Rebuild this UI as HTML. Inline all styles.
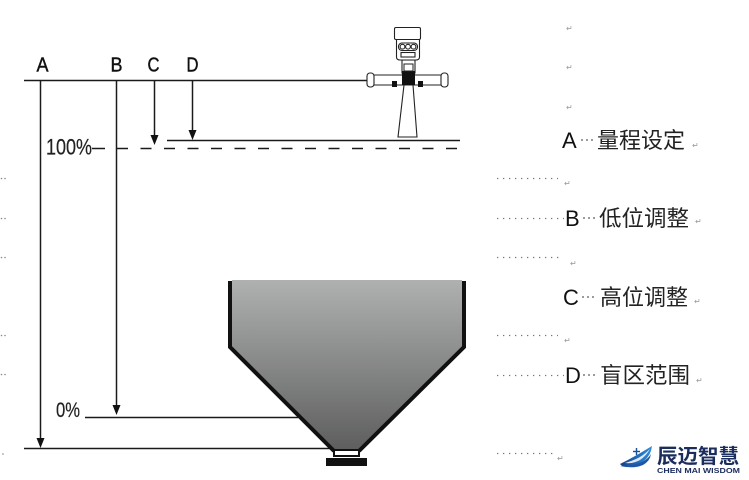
<!DOCTYPE html>
<html><head><meta charset="utf-8"><style>
html,body{margin:0;padding:0;background:#fff;}
svg{display:block;}
text{font-family:"Liberation Sans","Noto Sans CJK SC",sans-serif;}
.cjk{font-family:"Liberation Sans","Noto Sans CJK SC",sans-serif;}
</style></head><body>
<svg width="749" height="480" viewBox="0 0 749 480" xmlns="http://www.w3.org/2000/svg">
<defs>
<linearGradient id="hg" x1="0" y1="0" x2="0" y2="1">
<stop offset="0" stop-color="#afb1b1"/>
<stop offset="1" stop-color="#5e5e5e"/>
</linearGradient>
<linearGradient id="lg" x1="0" y1="0" x2="1" y2="0">
<stop offset="0" stop-color="#173f86"/>
<stop offset="1" stop-color="#2f8fdc"/>
</linearGradient>
</defs>
<rect width="749" height="480" fill="#fff"/>

<!-- main lines -->
<g stroke="#1a1a1a" stroke-width="1.5" fill="none">
<line x1="24" y1="80.5" x2="367" y2="80.5"/>
<line x1="40.5" y1="80" x2="40.5" y2="440"/>
<line x1="24" y1="448.5" x2="334" y2="448.5"/>
<line x1="116.5" y1="80" x2="116.5" y2="407"/>
<line x1="85" y1="417.5" x2="298" y2="417.5"/>
<line x1="154.5" y1="80" x2="154.5" y2="137"/>
<line x1="192.5" y1="80" x2="192.5" y2="132"/>
<line x1="167" y1="140.5" x2="460" y2="140.5"/>
<line x1="92" y1="148.5" x2="105" y2="148.5"/>
<line x1="117" y1="148.5" x2="461" y2="148.5" stroke-dasharray="11 12.5"/>
</g>
<g fill="#111">
<polygon points="36.5,438 44.5,438 40.5,448"/>
<polygon points="112.5,405 120.5,405 116.5,415"/>
<polygon points="150.5,135 158.5,135 154.5,145"/>
<polygon points="188.5,130 196.5,130 192.5,140"/>
</g>

<!-- labels -->
<g fill="#111" font-size="20" stroke="#111" stroke-width="0.4">
<text x="36.5" y="71.5" textLength="12" lengthAdjust="spacingAndGlyphs">A</text>
<text x="110.5" y="71.5" textLength="12" lengthAdjust="spacingAndGlyphs">B</text>
<text x="147.5" y="71.5" textLength="12" lengthAdjust="spacingAndGlyphs">C</text>
<text x="186.5" y="71.5" textLength="12" lengthAdjust="spacingAndGlyphs">D</text>
</g>
<text x="46" y="154.5" font-size="22" fill="#222" stroke="#222" stroke-width="0.2" textLength="46" lengthAdjust="spacingAndGlyphs">100%</text>
<text x="56" y="417" font-size="21" fill="#222" stroke="#222" stroke-width="0.2" textLength="24" lengthAdjust="spacingAndGlyphs">0%</text>

<!-- instrument -->
<g stroke="#222" stroke-width="1.1" fill="#fff">
<polygon points="404,85 413,85 417,137 398,137"/>
<rect x="369" y="75" width="77" height="10" rx="2"/>
<rect x="367" y="73" width="7" height="14" rx="3"/>
<rect x="441" y="73" width="7" height="14" rx="3"/>
<rect x="402" y="60" width="13" height="13"/>
<rect x="394.5" y="27.5" width="26" height="12" rx="1.5"/>
<path d="M396.5,39.5 L419.5,39.5 L419.5,57 Q419.5,60 416,60 L400,60 Q396.5,60 396.5,57 Z"/>
<rect x="398.5" y="43" width="19" height="7.5" rx="3.5"/>
<circle cx="402.5" cy="46.7" r="2.4"/>
<circle cx="408" cy="46.7" r="2.4"/>
<circle cx="413.5" cy="46.7" r="2.4"/>
<rect x="401" y="52.5" width="14" height="4.5"/>
</g>
<rect x="402" y="71" width="13" height="14" fill="#111"/>
<rect x="404" y="64" width="9" height="7" fill="#fff" stroke="#222" stroke-width="1"/>
<rect x="392" y="81" width="5" height="6" fill="#111"/>
<rect x="418" y="81" width="5" height="6" fill="#111"/>

<!-- hopper -->
<path d="M232,280 L462,280 L462,347 L358,450 L335,450 L232,347 Z" fill="url(#hg)"/>
<g stroke="#111" stroke-width="4" fill="none" stroke-linejoin="miter">
<polyline points="230,281 230,347 334,451"/>
<polyline points="464,281 464,347 359,451"/>
</g>
<rect x="334" y="450" width="25" height="6" fill="#fff" stroke="#111" stroke-width="2"/>
<rect x="326" y="458" width="41" height="8" fill="#111"/>

<!-- right side dotted rows -->
<g stroke="#777" stroke-width="1.3" stroke-dasharray="1.3 4.7" fill="none">
<line x1="497" y1="178.5" x2="558" y2="178.5"/>
<line x1="497" y1="218.5" x2="564" y2="218.5"/>
<line x1="497" y1="257.5" x2="560" y2="257.5"/>
<line x1="497" y1="335.5" x2="558" y2="335.5"/>
<line x1="497" y1="375.5" x2="564" y2="375.5"/>
<line x1="497" y1="453.5" x2="554" y2="453.5"/>
</g>
<g fill="#555">
<circle cx="582" cy="140" r="0.9"/><circle cx="587" cy="140" r="0.9"/><circle cx="592" cy="140" r="0.9"/>
<circle cx="584" cy="218" r="0.9"/><circle cx="589" cy="218" r="0.9"/><circle cx="594" cy="218" r="0.9"/>
<circle cx="583" cy="297" r="0.9"/><circle cx="588" cy="297" r="0.9"/><circle cx="593" cy="297" r="0.9"/>
<circle cx="584" cy="375" r="0.9"/><circle cx="589" cy="375" r="0.9"/><circle cx="594" cy="375" r="0.9"/>
</g>
<g fill="#888">
<circle cx="1.5" cy="178.5" r="0.8"/><circle cx="5" cy="178.5" r="0.8"/>
<circle cx="1.5" cy="218.5" r="0.8"/><circle cx="5" cy="218.5" r="0.8"/>
<circle cx="1.5" cy="257.5" r="0.8"/><circle cx="5" cy="257.5" r="0.8"/>
<circle cx="1.5" cy="335.5" r="0.8"/><circle cx="5" cy="335.5" r="0.8"/>
<circle cx="1.5" cy="374.5" r="0.8"/><circle cx="5" cy="374.5" r="0.8"/>
<circle cx="3" cy="454" r="0.8"/>
</g>

<!-- right labels -->
<g fill="#111" font-size="22">
<text x="562" y="148">A</text>
<text x="565" y="226">B</text>
<text x="563" y="305">C</text>
<text x="565" y="383">D</text>
</g>
<g fill="#222" font-size="22" class="cjk">
<text x="597" y="148" textLength="88" lengthAdjust="spacingAndGlyphs">量程设定</text>
<text x="599" y="226" textLength="90" lengthAdjust="spacingAndGlyphs">低位调整</text>
<text x="600" y="305" textLength="88" lengthAdjust="spacingAndGlyphs">高位调整</text>
<text x="600" y="383" textLength="90" lengthAdjust="spacingAndGlyphs">盲区范围</text>
</g>

<!-- return marks -->
<g fill="#999" font-size="8" font-family="DejaVu Sans, sans-serif">
<text x="566" y="31">↵</text>
<text x="566" y="70">↵</text>
<text x="566" y="110">↵</text>
<text x="692" y="148">↵</text>
<text x="564" y="186">↵</text>
<text x="695" y="224">↵</text>
<text x="570" y="266">↵</text>
<text x="694" y="304">↵</text>
<text x="564" y="343">↵</text>
<text x="696" y="383">↵</text>
<text x="557" y="461">↵</text>
</g>

<!-- logo -->
<path d="M620,464 Q632,458 642,452 Q647,449 652,446 Q651,455 644,461 Q636,467 622,466 Z" fill="url(#lg)"/>
<path d="M625,463 Q636,460 643,455 Q647,452 650,449 Q646,456 640,460 Q633,464 625,463 Z" fill="#fff" opacity="0.85"/>
<path d="M620,466 Q632,466 642,462 Q648,459 651,454 Q650,461 643,465 Q634,469 620,466 Z" fill="#1d56a8"/>
<g stroke="#1a4f9c" stroke-width="1.4">
<line x1="633" y1="451.5" x2="640" y2="451.5"/>
<line x1="636.5" y1="448" x2="636.5" y2="455"/>
</g>
<text x="657" y="463" font-size="20" font-weight="bold" fill="#1b2d5c" textLength="82" lengthAdjust="spacingAndGlyphs" class="cjk">辰迈智慧</text>
<text x="657" y="473" font-size="7.5" font-weight="bold" fill="#1b2d5c" textLength="83" lengthAdjust="spacingAndGlyphs">CHEN MAI WISDOM</text>
</svg>
</body></html>
